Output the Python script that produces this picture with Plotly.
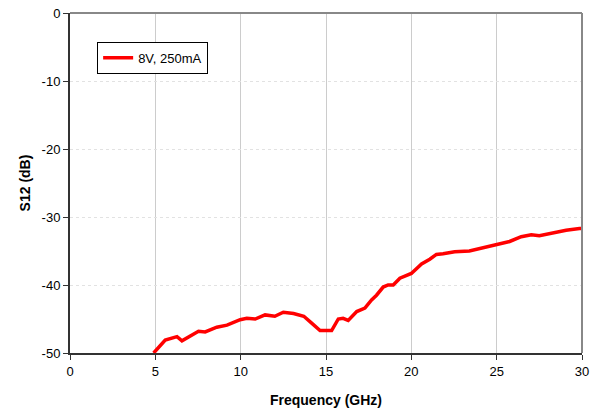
import plotly.graph_objects as go

freq = [4.9, 5.58, 6.27, 6.56, 7.53, 7.92, 8.6, 9.2, 9.97, 10.36, 10.85, 11.43, 12.0, 12.5,
        13.1, 13.7, 14.16, 14.65, 15.33, 15.72, 16.0, 16.3, 16.8, 17.28, 17.67, 17.96, 18.35,
        18.64, 18.94, 19.33, 20.0, 20.6, 21.08, 21.47, 21.86, 22.54, 23.4, 24.4, 25.08, 25.76,
        26.44, 27.03, 27.5, 28.0, 28.4, 29.07, 29.85, 30.0]
s12 = [-50.0, -48.1, -47.6, -48.2, -46.8, -46.9, -46.2, -45.9, -45.1, -44.9, -45.0, -44.4,
       -44.6, -44.0, -44.2, -44.6, -45.6, -46.7, -46.7, -45.0, -44.9, -45.2, -43.9, -43.4,
       -42.2, -41.5, -40.3, -40.0, -40.0, -39.0, -38.3, -36.9, -36.2, -35.5, -35.4, -35.1,
       -35.0, -34.4, -34.0, -33.6, -32.9, -32.6, -32.75, -32.5, -32.2, -31.95, -31.7, -31.7]
series_name = "8V, 250mA"
x_ticks = [0, 5, 10, 15, 20, 25, 30]
y_ticks = [-50, -40, -30, -20, -10, 0]
y_tick_text = ["-50", "-40", "-30", "-20", "-10", "0"]

fig = go.Figure()
fig.add_trace(go.Scatter(x=freq, y=s12, mode="lines", name=series_name,
                         line=dict(color="#ff0000", width=3.5), showlegend=True))

font = dict(family="Liberation Sans, Arial, sans-serif", size=13, color="#000")
fig.update_layout(
    width=603, height=414,
    margin=dict(l=70, r=21, t=13, b=61),
    paper_bgcolor="white", plot_bgcolor="white",
    font=font,
    showlegend=True,
    legend=dict(x=0.053, y=0.915, xanchor="left", yanchor="top",
                bordercolor="#000", borderwidth=1, bgcolor="white",
                font=dict(family="Liberation Sans, Arial, sans-serif", size=13),
                itemwidth=30, tracegroupgap=0),
    xaxis=dict(range=[0, 30], tickvals=x_ticks, showgrid=True, gridcolor="#cccccc",
               gridwidth=1, zeroline=False, showline=True, linecolor="#333",
               linewidth=2, ticks="outside", ticklen=5, tickcolor="#333",
               automargin=False,
               title=dict(text="<b>Frequency (GHz)</b>", standoff=18,
                          font=dict(size=14))),
    yaxis=dict(range=[-50, 0], tickvals=y_ticks, ticktext=y_tick_text, showgrid=True,
               gridcolor="#e2e2e2", griddash="dot", gridwidth=1, zeroline=False,
               showline=True, linecolor="#333", linewidth=2, ticks="outside",
               ticklen=5, tickcolor="#333", automargin=False,
               title=dict(text="<b>S12 (dB)</b>", standoff=8, font=dict(size=14))),
    shapes=[
        dict(type="line", xref="paper", yref="paper", x0=0, x1=1, y0=1, y1=1,
             line=dict(color="#888", width=2), layer="above"),
        dict(type="line", xref="paper", yref="paper", x0=1, x1=1, y0=0, y1=1,
             line=dict(color="#888", width=2), layer="above"),
    ],
)
fig.write_html("out.html")
